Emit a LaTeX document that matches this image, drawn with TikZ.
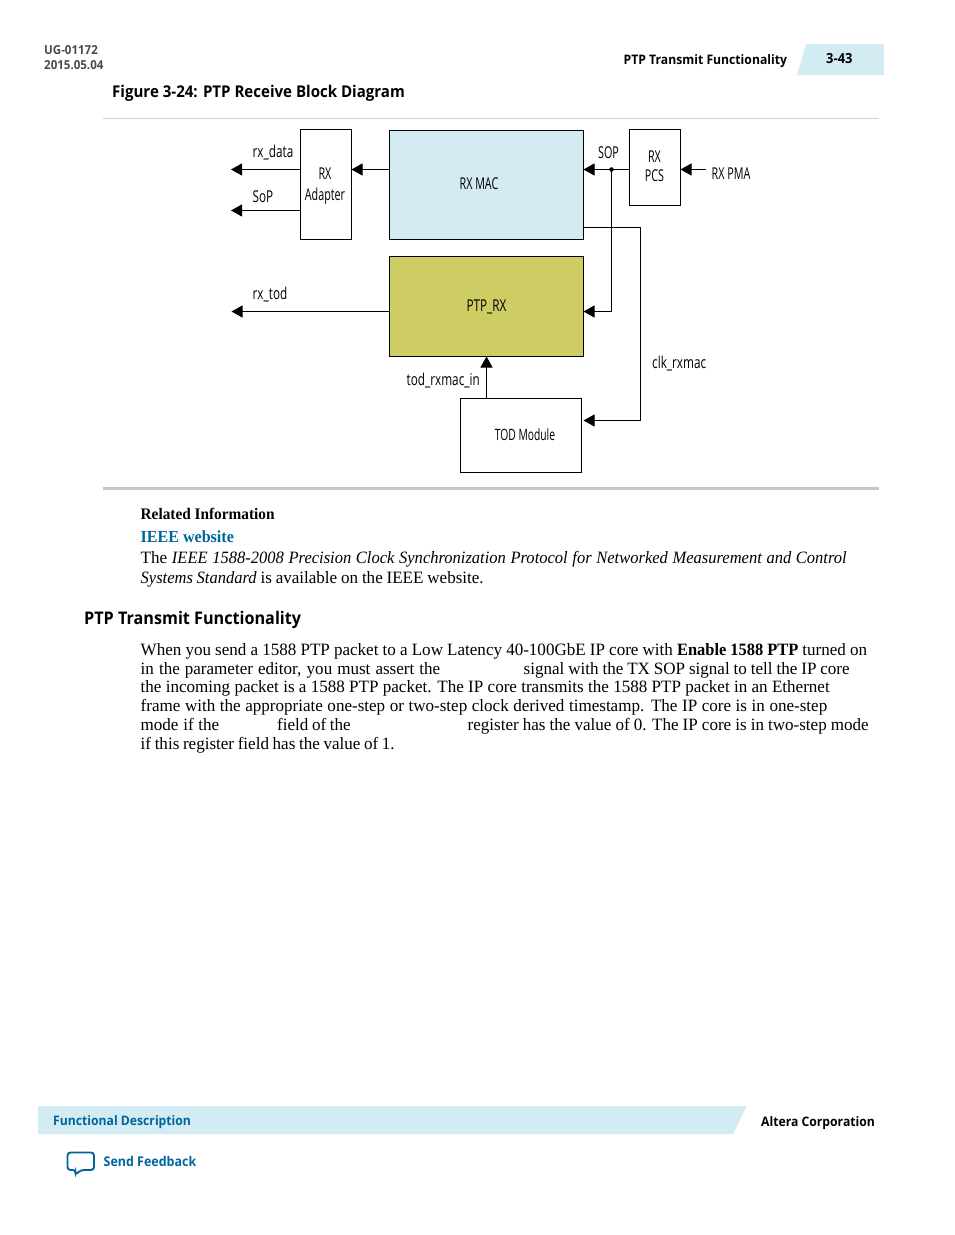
\documentclass[tikz,border=0pt]{standalone}
\usepackage{fontspec}
\usetikzlibrary{arrows.meta,calc}
\setmainfont{Liberation Serif}[FakeStretch=0.985,ItalicFeatures={FakeStretch=0.955},BoldFeatures={FakeStretch=0.95}]
\newfontfamily\headf{Open Sans}[FakeStretch=0.93]
\newfontfamily\condf{Open Sans}[FakeStretch=0.72]
\newfontfamily\narrf{Open Sans}[FakeStretch=0.66]
\definecolor{band}{HTML}{D3ECF4}
\definecolor{ptp}{HTML}{CDCD64}
\definecolor{linkc}{HTML}{00659C}
\newcommand{\fitline}[2]{\makebox[#1pt][s]{#2}}
\tikzset{
 x=1pt,y=-1pt,
 blockbox/.style={draw=black,line width=0.8pt,inner sep=0,outer sep=0,anchor=north west},
 lab/.style={font=\condf\fontsize{16.3}{18}\selectfont,inner sep=0,align=center,text=black},
 nlab/.style={font=\narrf\fontsize{16.3}{18}\selectfont,inner sep=0,align=center,text=black},
 wire/.style={draw=black,line width=0.8pt},
 arr/.style={wire,-{Triangle[length=11pt,width=12pt]}},
 body/.style={font=\fontsize{17.3}{20}\selectfont,inner sep=0,anchor=base west},
 head/.style={font=\headf\bfseries\fontsize{13.1}{15}\selectfont,inner sep=0,anchor=base west},
 small/.style={font=\headf\fontsize{12.4}{14}\selectfont\bfseries,inner sep=0,anchor=base west,text=black!70},
}
\begin{document}
\begin{tikzpicture}
\useasboundingbox (0,0) rectangle (954,1235);
\fill[white] (0,0) rectangle (954,1235);
% header
\node[small] (docid) at (44,54) {UG-01172};
\node[small] (docdate) at (44,69) {2015.05.04};
\fill[band] (797,75) -- (806,44) -- (884,44) -- (884,75) -- cycle;
\node[head] (hdr) at (623.5,64) {PTP Transmit Functionality};
\node[head,font=\headf\bfseries\fontsize{13.9}{15}\selectfont] (pg) at (826,63) {3-43};
\node[font=\headf\bfseries\fontsize{16.2}{18}\selectfont,inner sep=0,anchor=base west] (figt) at (112,97) {Figure 3-24: PTP Receive Block Diagram};
\draw[black!18,line width=0.8pt] (103,118.5) -- (879,118.5);
% blocks
\node[blockbox,minimum width=51pt,minimum height=110pt] (adapter) at (300.5,129.5) {};
\node[blockbox,fill=band,minimum width=194pt,minimum height=109pt] (mac) at (389.5,130.5) {};
\node[blockbox,minimum width=51pt,minimum height=76pt] (pcs) at (629.5,129.5) {};
\node[blockbox,fill=ptp,minimum width=194pt,minimum height=100pt] (ptprx) at (389.5,256.5) {};
\node[blockbox,minimum width=121pt,minimum height=74pt] (tod) at (460.5,398.5) {};
% block labels
\node[nlab] (ladapter) at (325,186) {RX\\[2.4pt]Adapter};
\node[nlab] (lmac) at (479,183.5) {RX MAC};
\node[nlab] (lpcs) at (654.5,166.3) {RX\\[0.6pt]PCS};
\node[lab] (lptp) at (486.5,306.5) {PTP\_RX};
\node[nlab,font=\narrf\fontsize{15.6}{18}\selectfont] (ltod) at (525,435) {TOD Module};
% free ends
\coordinate (o1) at (231,169.5);
\coordinate (o2) at (231,210.5);
\coordinate (o3) at (231.5,311.5);
\coordinate (pma) at (706,169.5);
\coordinate (dot) at (611.5,169.5);
\coordinate (clk1) at (640.5,227.5);
\coordinate (clk2) at (640.5,420.5);
% connectors
\draw[arr] (adapter.west |- o1) -- (o1);
\draw[arr] (adapter.west |- o2) -- (o2);
\draw[arr] (mac.west |- o1) -- (adapter.east |- o1);
\draw[arr] (pcs.west |- o1) -- (mac.east |- o1);
\draw[arr] (pma) -- (pcs.east |- pma);
\draw[arr] (dot) -- (dot |- o3) -- (ptprx.east |- o3);
\fill (dot) circle (2.3pt);
\draw[arr] (ptprx.west |- o3) -- (o3);
\draw[wire] (mac.east |- clk1) -- (clk1) -- (clk2);
\draw[arr] (clk2) -- (ptprx.east |- clk2);
\draw[arr] (tod.north west -| ptprx.south) -- (ptprx.south);
% signal labels
\node[lab,anchor=base west] (s1) at (252.5,157.5) {rx\_data};
\node[lab,anchor=base west] (s2) at (252.5,202) {SoP};
\node[lab,anchor=base west] (s3) at (252.5,299.5) {rx\_tod};
\node[nlab,anchor=base west] (s4) at (598,158.5) {SOP};
\node[nlab,anchor=base west] (s5) at (711.5,179) {RX PMA};
\node[lab,anchor=base west] (s6) at (652,368.5) {clk\_rxmac};
\node[lab,anchor=base west] (s7) at (406.5,385.5) {tod\_rxmac\_in};
% lower separator
\draw[black!22,line width=2.4pt] (103,488.5) -- (879,488.5);
% related info
\node[body,font=\bfseries\fontsize{16.1}{18}\selectfont] (ri) at (140.5,519) {Related Information};
\node[body,font=\bfseries\fontsize{16.9}{20}\selectfont,text=linkc] (ieee) at (140.5,542) {IEEE website};
\node[body] (r1) at (140.5,563) {\fitline{706}{The \textit{IEEE 1588-2008 Precision Clock Synchronization Protocol for Networked Measurement and Control}}};
\node[body] (r2) at (140.5,583) {\fitline{343}{\textit{Systems Standard} is available on the IEEE website.}};
\node[font=\headf\bfseries\fontsize{17.4}{20}\selectfont,inner sep=0,anchor=base west] (sec) at (84,624) {PTP Transmit Functionality};
% paragraph
\node[body] (p1) at (140.5,655) {\fitline{726.5}{When you send a 1588 PTP packet to a Low Latency 40-100GbE IP core with \textbf{Enable 1588 PTP} turned on}};
\node[body] (p2a) at (140.5,674) {\fitline{299.5}{in the parameter editor, you must assert the}};
\node[body] (p2b) at (523.5,674) {\fitline{326}{signal with the TX SOP signal to tell the IP core}};
\node[body] (p3) at (140.5,692) {\fitline{689}{the incoming packet is a 1588 PTP packet. The IP core transmits the 1588 PTP packet in an Ethernet}};
\node[body] (p4) at (140.5,711) {\fitline{686.5}{frame with the appropriate one-step or two-step clock derived timestamp. The IP core is in one-step}};
\node[body] (p5a) at (140.5,730) {\fitline{78.5}{mode if the}};
\node[body] (p5b) at (277,730) {\fitline{73.5}{field of the}};
\node[body] (p5c) at (467.5,730) {\fitline{401}{register has the value of 0. The IP core is in two-step mode}};
\node[body] (p6) at (140.5,749) {\fitline{254}{if this register field has the value of 1.}};
% footer
\fill[band] (38,1106) -- (747,1106) -- (733,1134) -- (38,1134) -- cycle;
\node[head,text=linkc] (ff) at (53,1125) {Functional Description};
\node[head] (alt) at (761,1126) {Altera Corporation};
\draw[linkc,line width=1.9pt,rounded corners=3pt] (67.5,1152.5) -- (94,1152.5) -- (94,1170) -- (81,1170) -- (75,1175) -- (76,1170) -- (67.5,1170) -- cycle;
\node[head,font=\headf\bfseries\fontsize{13.4}{15}\selectfont,text=linkc] (sf) at (103.5,1166) {Send Feedback};
\end{tikzpicture}
\end{document}
